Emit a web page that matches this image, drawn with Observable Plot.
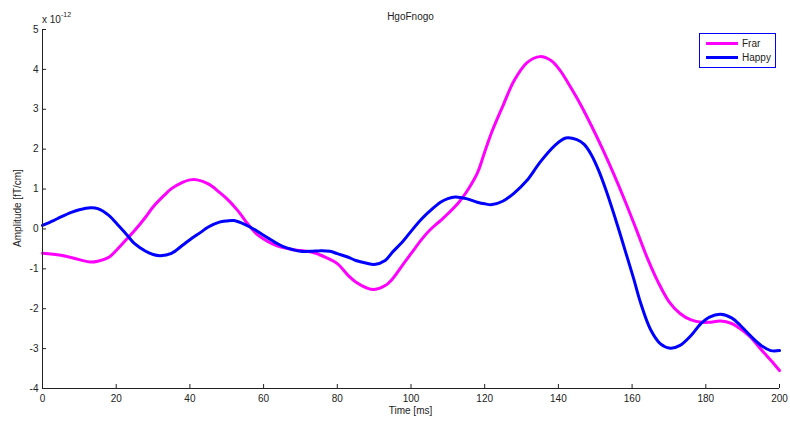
<!DOCTYPE html>
<html>
<head>
<meta charset="utf-8">
<script src="https://cdn.jsdelivr.net/npm/d3@7"></script>
<script src="https://cdn.jsdelivr.net/npm/@observablehq/plot@0.6"></script>
<style>
  html, body { margin: 0; padding: 0; background: #fff; }
  #wrap { position: relative; width: 790px; height: 423px; font-family: "Liberation Sans", Arial, sans-serif; color: #222; }
  .ov { position: absolute; font-size: 10px; white-space: nowrap; }
</style>
</head>
<body>
<div id="wrap"></div>
<script>
// ---- data ----
const title = "HgoFnogo";
const xLabel = "Time [ms]";
const yLabel = "Amplitude [fT/cm]";
const exponentBase = "x 10";
const exponentPow = "-12";
const seriesNames = ["Frar", "Happy"];
const seriesColors = ["#ff00ff", "#0000ff"];
const xTicks = [0, 20, 40, 60, 80, 100, 120, 140, 160, 180, 200];
const yTicks = [-4, -3, -2, -1, 0, 1, 2, 3, 4, 5];

const frarX = [0,5,10,13,15,18,20,23,25,28,30,33,35,38,40,42,45,48,50,53,55,58,60,63,65,68,70,73,75,77,80,83,85,88,90,93,95,98,100,103,105,108,110,113,115,118,120,122,125,128,131.5,135,138,140.5,143,146,149,152,155,158,161,164,167,170,173,176,179,181,184,187,189,192,195,198,200];
const frarY = [-0.61,-0.66,-0.77,-0.83,-0.81,-0.71,-0.54,-0.24,-0.04,0.30,0.55,0.84,1.01,1.17,1.23,1.23,1.13,0.92,0.76,0.46,0.21,-0.12,-0.25,-0.40,-0.46,-0.52,-0.54,-0.58,-0.64,-0.72,-0.87,-1.17,-1.33,-1.48,-1.52,-1.42,-1.25,-0.87,-0.62,-0.25,-0.04,0.21,0.38,0.67,0.92,1.40,1.93,2.45,3.10,3.72,4.17,4.32,4.22,3.97,3.60,3.12,2.58,2.00,1.38,0.72,0.02,-0.70,-1.32,-1.82,-2.12,-2.28,-2.34,-2.34,-2.31,-2.37,-2.48,-2.70,-3.02,-3.33,-3.55];

const happyX = [0,3,5,8,10,13,15,18,20,23,25,28,30,32,35,38,40,43,45,48,50,52,55,58,60,63,65,68,70,73,75,78,80,83,85,88,90,93,95,98,100,103,105,108,110,112,115,118,120,122,125,128,131.5,135,139,142,145,147,149,151,153,156,158.7,160.5,162.3,165,167.7,170.4,173,176,178.6,181,184,187,189.4,192,195,197.6,200];
const happyY = [0.09,0.21,0.30,0.42,0.48,0.53,0.51,0.34,0.15,-0.16,-0.37,-0.56,-0.64,-0.67,-0.61,-0.41,-0.27,-0.08,0.05,0.17,0.20,0.21,0.11,-0.04,-0.16,-0.33,-0.43,-0.52,-0.56,-0.56,-0.55,-0.56,-0.62,-0.71,-0.79,-0.86,-0.89,-0.79,-0.58,-0.29,-0.06,0.26,0.44,0.67,0.76,0.80,0.76,0.67,0.63,0.61,0.70,0.90,1.22,1.67,2.09,2.28,2.24,2.12,1.85,1.45,0.95,0.10,-0.72,-1.27,-1.85,-2.52,-2.88,-2.99,-2.92,-2.67,-2.38,-2.21,-2.14,-2.23,-2.42,-2.67,-2.92,-3.05,-3.05];

// ---- build ----
const frar = frarX.map((x, i) => ({x, y: frarY[i], s: seriesNames[0]}));
const happy = happyX.map((x, i) => ({x, y: happyY[i], s: seriesNames[1]}));

const axisColor = "#222";
const chart = Plot.plot({
  width: 790,
  height: 423,
  marginLeft: 42,
  marginRight: 11,
  marginTop: 29,
  marginBottom: 35,
  style: {fontFamily: "'Liberation Sans', Arial, sans-serif", fontSize: "10px", color: axisColor, background: "#fff"},
  x: {domain: [0, 200]},
  y: {domain: [-4, 5]},
  marks: [
    Plot.line(frar, {x: "x", y: "y", stroke: seriesColors[0], strokeWidth: 3, curve: "catmull-rom"}),
    Plot.line(happy, {x: "x", y: "y", stroke: seriesColors[1], strokeWidth: 3, curve: "catmull-rom"}),
    // tick labels
    Plot.axisY({ticks: yTicks, tickSize: 0, tickPadding: 4, tickFormat: d => String(d), label: null, fill: axisColor}),
    Plot.axisX({ticks: xTicks, tickSize: 0, tickPadding: 6, tickFormat: d => String(d), label: null, fill: axisColor}),
    // inward ticks
    Plot.axisY({ticks: yTicks, tickSize: 4, dx: 4, tickFormat: () => "", label: null, stroke: axisColor}),
    Plot.axisX({ticks: xTicks, tickSize: 4, dy: -4, tickFormat: () => "", label: null, stroke: axisColor}),
    // axis lines
    Plot.ruleX([0], {stroke: axisColor, strokeWidth: 1}),
    Plot.ruleY([-4], {stroke: axisColor, strokeWidth: 1})
  ]
});

const wrap = document.getElementById("wrap");
chart.style.position = "absolute";
chart.style.left = "0px";
chart.style.top = "0px";
wrap.appendChild(chart);

function ov(html, css) {
  const d = document.createElement("div");
  d.className = "ov";
  d.innerHTML = html;
  Object.assign(d.style, css);
  wrap.appendChild(d);
  return d;
}
ov(title, {left: "0px", width: "821px", textAlign: "center", top: "11px"});
ov(exponentBase + '<sup style="font-size:7px;position:relative;top:-2px;">' + exponentPow + '</sup>', {left: "42px", top: "13px"});
ov(xLabel, {left: "0px", width: "821px", textAlign: "center", top: "405px"});
ov(yLabel, {left: "17px", top: "208px", transform: "translate(-50%,-50%) rotate(-90deg)"});

// legend
const lg = document.createElement("div");
Object.assign(lg.style, {position: "absolute", left: "699px", top: "33px", width: "75px", height: "33px", border: "1px solid #0000ff", background: "#fff", fontSize: "10px"});
seriesNames.forEach((n, i) => {
  const row = document.createElement("div");
  Object.assign(row.style, {position: "absolute", left: "6px", top: (3 + i * 14.5) + "px", height: "12px", display: "flex", alignItems: "center"});
  row.innerHTML = '<span style="display:inline-block;width:32px;height:3px;background:' + seriesColors[i] + ';margin-right:4px;"></span><span>' + n + '</span>';
  lg.appendChild(row);
});
wrap.appendChild(lg);
</script>
</body>
</html>
